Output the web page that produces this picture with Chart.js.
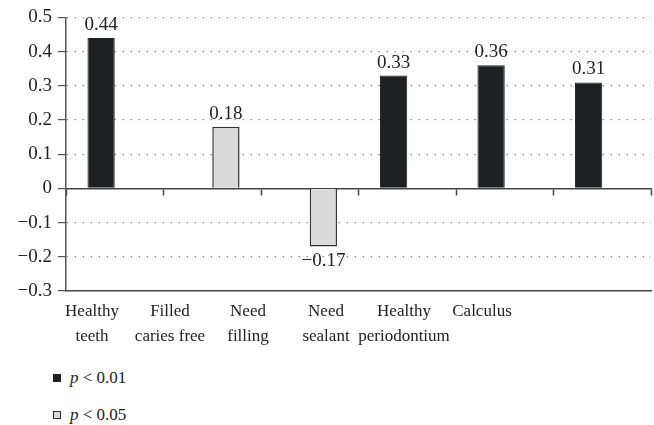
<!DOCTYPE html>
<html lang="en">
<head>
    <meta charset="UTF-8">
    <title>Oral health indicators</title>
    <script src="https://cdn.jsdelivr.net/npm/chart.js"></script>
    <style>
        body { margin: 0; background: #fff; font-family: "Liberation Serif", serif; }
        .wrap { position: relative; width: 654px; height: 345px; }
        .legend { position: absolute; left: 53px; font-size: 17px; color: #222; }
        .legend div { position: absolute; white-space: nowrap; height: 20px; line-height: 20px; }
        .legend span.box { position: absolute; left: 0; top: 6px; width: 6px; height: 6px; box-sizing: content-box; }
        .legend span.txt { position: absolute; left: 17px; top: 0; }
    </style>
</head>
<body>
    <div class="wrap">
        <canvas id="barChart"></canvas>
    </div>
    <div class="legend" id="legend"></div>

    <script>
        // categories and values
        var categories = [
            ['Healthy', 'teeth'],
            ['Filled', 'caries free'],
            ['Need', 'filling'],
            ['Need', 'sealant'],
            ['Healthy', 'periodontium'],
            ['Calculus']
        ];
        var values = [0.44, 0.18, -0.17, 0.33, 0.36, 0.31];
        var pLevel = ['0.01', '0.05', '0.05', '0.01', '0.01', '0.01'];
        var seriesNames = ['p < 0.01', 'p < 0.05'];
        var yTicks = [-0.3, -0.2, -0.1, 0, 0.1, 0.2, 0.3, 0.4, 0.5];

        var darkData = values.map(function(v, i) { return pLevel[i] === '0.01' ? v : null; });
        var lightData = values.map(function(v, i) { return pLevel[i] === '0.05' ? v : null; });

        function fmt(v, d) {
            var s = Math.abs(v).toFixed(d);
            if (Math.abs(v) < 1e-9) return '0';
            return (v < 0 ? '\u2212' : '') + s;
        }

        // 柱子上方的数值
        var valueLabels = {
            id: 'valueLabels',
            afterDatasetsDraw: function(chart) {
                var ctx = chart.ctx;
                ctx.save();
                ctx.font = '19px "Liberation Serif"';
                ctx.fillStyle = '#222';
                ctx.textAlign = 'center';
                chart.data.datasets.forEach(function(ds, i) {
                    chart.getDatasetMeta(i).data.forEach(function(bar, j) {
                        var v = ds.data[j];
                        if (v == null) return;
                        if (v >= 0) {
                            ctx.textBaseline = 'alphabetic';
                            ctx.fillText(fmt(v, 2), bar.x, bar.y - 8);
                        } else {
                            ctx.textBaseline = 'top';
                            ctx.fillText(fmt(v, 2), bar.x, bar.y + 5);
                        }
                    });
                });
                ctx.restore();
            }
        };

        var ctx = document.getElementById('barChart').getContext('2d');
        var chart = new Chart(ctx, {
            type: 'bar',
            data: {
                labels: categories.map(function(c) { return c.join(' '); }),
                datasets: [{
                    label: seriesNames[0],
                    data: darkData,
                    backgroundColor: '#1f2023',
                    borderColor: '#1f2023',
                    borderWidth: 1
                }, {
                    label: seriesNames[1],
                    data: lightData,
                    backgroundColor: '#dadada',
                    borderColor: '#333',
                    borderWidth: 1.5
                }]
            },
            options: {
                responsive: true,
                maintainAspectRatio: false,
                animation: false,
                categoryPercentage: 0.56,
                barPercentage: 1,
                layout: { padding: { left: 0, right: 3, top: 15, bottom: 0 } },
                plugins: {
                    legend: { display: false },
                    tooltip: { enabled: false }
                },
                scales: {
                    x: {
                        type: 'category',
                        position: { y: 0 },
                        afterFit: function(s) { s.height = 0; },
                        ticks: { display: false },
                        grid: {
                            offset: true,
                            drawOnChartArea: false,
                            drawTicks: true,
                            tickLength: 6,
                            tickColor: '#444',
                            tickWidth: 1.5
                        },
                        border: { display: true, color: '#444', width: 1.5 }
                    },
                    xl: {
                        type: 'linear',
                        axis: 'x',
                        position: 'bottom',
                        offset: false,
                        bounds: 'data',
                        min: -26 / 78,
                        max: 559 / 78,
                        afterFit: function(s) { s.height = 54; },
                        afterBuildTicks: function(s) {
                            s.ticks = categories.map(function(c, i) { return { value: i }; });
                        },
                        ticks: {
                            autoSkip: false,
                            maxRotation: 0,
                            padding: 8,
                            color: '#222',
                            font: { family: 'Liberation Serif', size: 17, lineHeight: 1.47 },
                            callback: function(v, i) { return categories[i]; }
                        },
                        grid: { display: false, drawTicks: false },
                        border: { display: true, color: '#444', width: 1.5 }
                    },
                    y: {
                        min: -0.3,
                        max: 0.5,
                        afterFit: function(s) { s.width = 66; },
                        afterBuildTicks: function(s) {
                            s.ticks = yTicks.map(function(v) { return { value: v }; });
                        },
                        ticks: {
                            padding: 6,
                            color: '#222',
                            font: { family: 'Liberation Serif', size: 19 },
                            callback: function(v) { return fmt(Math.round(v * 10) / 10, 1); }
                        },
                        grid: {
                            color: function(c) {
                                var v = c.tick ? Math.round(c.tick.value * 10) / 10 : null;
                                return (v === 0 || v === -0.3) ? 'rgba(0,0,0,0)' : '#8a8a8a';
                            },
                            lineWidth: 1.2,
                            drawTicks: true,
                            tickLength: 8,
                            tickColor: '#555',
                            tickWidth: 1.2
                        },
                        border: { display: true, color: '#555', width: 1.5, dash: [1.5, 6.5] }
                    }
                }
            },
            plugins: [valueLabels]
        });

        // 图例 (HTML, p 为斜体)
        var legendEl = document.getElementById('legend');
        chart.data.datasets.forEach(function(ds, i) {
            var item = document.createElement('div');
            item.style.top = (368 + i * 37) + 'px';
            var box = document.createElement('span');
            box.className = 'box';
            box.style.background = ds.backgroundColor;
            box.style.border = '0.5px solid ' + ds.borderColor;
            var txt = document.createElement('span');
            txt.className = 'txt';
            txt.innerHTML = '<i>' + ds.label.charAt(0) + '</i>' + ds.label.slice(1);
            item.appendChild(box);
            item.appendChild(txt);
            legendEl.appendChild(item);
        });
        legendEl.style.top = '0px';
    </script>
</body>
</html>
